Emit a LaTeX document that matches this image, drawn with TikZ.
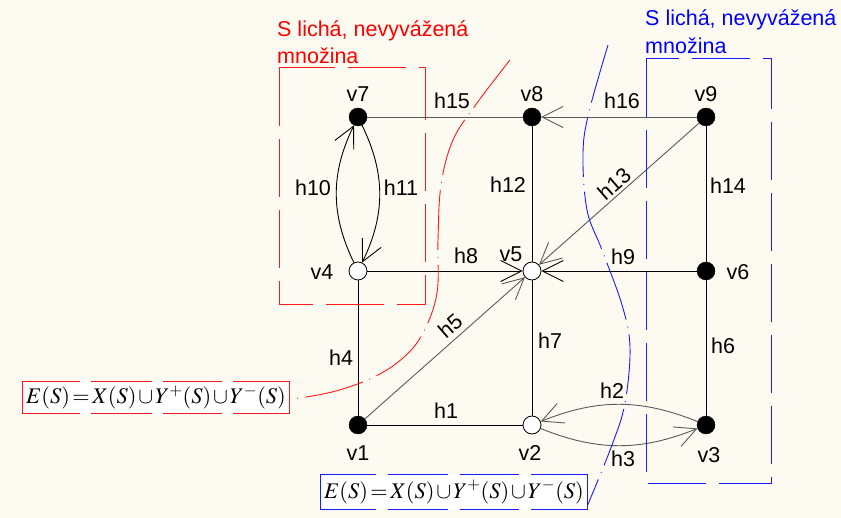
\documentclass[tikz,border=0pt]{standalone}
\usepackage{mathptmx}
\usepackage[no-math]{fontspec}
\setmainfont{Liberation Sans}
\usetikzlibrary{arrows.meta}
\definecolor{paper}{HTML}{FDFBF1}
\definecolor{edgegray}{HTML}{5A5A5A}
\definecolor{setred}{HTML}{FF1A1A}
\definecolor{setblue}{HTML}{1A1AFF}

% the set formula, set tight
\newcommand{\setformula}{\medmuskip=1.5mu\thickmuskip=2mu
  $E(S)=X(S)\cup Y^{+}(S)\cup Y^{-}(S)$}

\begin{document}
\begin{tikzpicture}[x=1pt,y=-1pt,
  every node/.style={font=\fontsize{21.5}{25}\selectfont},
  vfull/.style={circle,fill=black,draw=black,minimum size=18pt,inner sep=0pt},
  vopen/.style={circle,fill=white,draw=black,line width=0.8pt,minimum size=18pt,inner sep=0pt},
  edge/.style={line width=0.9pt,black},
  gedge/.style={line width=0.9pt,edgegray},
  arr/.style={-{Straight Barb[length=21pt,width=21pt]}},
  lbl/.style={inner sep=0pt},
  setbox/.style={line width=1pt,dash pattern=on 58pt off 13pt},
  setcurve/.style={line width=0.9pt,dash pattern=on 60pt off 7pt on 1pt off 7pt},
  formula/.style={fill=white,minimum width=266pt,minimum height=32pt,inner sep=0pt,
    font=\fontsize{22.3}{26}\selectfont},
  frame/.style={line width=1pt},
  notch/.style={white,line width=2.2pt}
]
% paper
\fill[paper] (0,0) rectangle (841,518);
\useasboundingbox (0,0) rectangle (841,518);

% vertices
\node[vfull] (v7) at (358,117) {};
\node[vfull] (v8) at (532,117) {};
\node[vfull] (v9) at (706,117) {};
\node[vopen] (v4) at (358,271) {};
\node[vopen] (v5) at (532,271) {};
\node[vfull] (v6) at (706,271) {};
\node[vfull] (v1) at (358,425) {};
\node[vopen] (v2) at (532,425) {};
\node[vfull] (v3) at (706,425) {};

% edges
\draw[gedge] (v7) -- (v8);                       % h15
\draw[gedge,arr] (v9) -- (v8);                   % h16
\draw[edge] (v8) -- (v5);                        % h12
\draw[gedge,arr] (v9) -- (v5);                   % h13
\draw[edge] (v9) -- (v6);                        % h14
\draw[edge,arr] (v4) -- (v5);                    % h8
\draw[edge,arr] (v6) -- (v5);                    % h9
\draw[edge,arr] (v4) to[bend left=26] (v7);      % h10
\draw[edge,arr] (v7) to[bend left=26] (v4);      % h11
\draw[edge] (v4) -- (v1);                        % h4
\draw[gedge,arr] (v1) -- (v5);                   % h5
\draw[edge] (v5) -- (v2);                        % h7
\draw[edge] (v6) -- (v3);                        % h6
\draw[edge] (v1) -- (v2);                        % h1
\draw[gedge,arr] (v3) to[bend right=22] (v2);    % h2
\draw[gedge,arr] (v2) to[bend right=22] (v3);    % h3

% vertex labels
\node[lbl] (lv7) at (358,94) {v7};
\node[lbl] (lv8) at (532,94) {v8};
\node[lbl] (lv9) at (706,94) {v9};
\node[lbl] (lv4) at (322,272) {v4};
\node[lbl] (lv5) at (511,254) {v5};
\node[lbl] (lv6) at (738,272) {v6};
\node[lbl] (lv1) at (358,453) {v1};
\node[lbl] (lv2) at (530,453) {v2};
\node[lbl] (lv3) at (709,455) {v3};

% edge labels
\node[lbl] (l15) at (452,101) {h15};
\node[lbl] (l16) at (622,101) {h16};
\node[lbl] (l12) at (508,185) {h12};
\node[lbl,rotate=41] (l13) at (614,184) {h13};
\node[lbl] (l14) at (728,186) {h14};
\node[lbl] (l10) at (313,188) {h10};
\node[lbl] (l11) at (401,188) {h11};
\node[lbl] (l8) at (466,256) {h8};
\node[lbl] (l9) at (623,257) {h9};
\node[lbl,rotate=41] (l5) at (450,326) {h5};
\node[lbl] (l7) at (550,341) {h7};
\node[lbl] (l6) at (723,346) {h6};
\node[lbl] (l4) at (341,358) {h4};
\node[lbl] (l1) at (446,411) {h1};
\node[lbl] (l2) at (612,391) {h2};
\node[lbl] (l3) at (623,459) {h3};

% odd unbalanced set, left
\node[lbl,anchor=west,text=red] (rt1) at (277,31) {S lichá, nevyvážená};
\node[lbl,anchor=west,text=red] (rt2) at (277,56) {množina};
\draw[setbox,setred] (279,68) rectangle (425,305);
\node[formula] (fr) at (156,397.5) {\setformula};
\draw[frame,setred] (fr.north west) rectangle (fr.south east);
\foreach \g in {57,129,199}{
  \draw[notch] ([xshift=\g pt]fr.north west) -- ++(11,0);
  \draw[notch] ([xshift=\g pt]fr.south west) -- ++(11,0);
}
\coordinate (rtop) at (510,60);
\draw[setcurve,setred] plot[smooth,tension=0.6] coordinates
  {(rtop) (477,103) (453,140) (441,185) (438,240) (437,293) (423,333) (403,358) (372,378) (332,392) ([yshift=-2pt]fr.east)};

% odd unbalanced set, right
\node[lbl,anchor=west,text=blue] (bt1) at (645,20) {S lichá, nevyvážená};
\node[lbl,anchor=west,text=blue] (bt2) at (645,46) {množina};
\draw[setbox,setblue] (646,59) rectangle (771,483);
\node[formula,minimum height=34pt] (fb) at (454,492) {\setformula};
\draw[frame,setblue] (fb.north west) rectangle (fb.south east);
\foreach \g in {55,127,198}{
  \draw[notch] ([xshift=\g pt]fb.north west) -- ++(12,0);
  \draw[notch] ([xshift=\g pt]fb.south west) -- ++(12,0);
}
\coordinate (btop) at (608,45);
\draw[setcurve,setblue] plot[smooth,tension=0.6] coordinates
  {(btop) (589,112) (583,153) (587,210) (602,250) (622,305) (630,347) (625,403) (612,445) ([yshift=3pt]fb.south east)};
\end{tikzpicture}
\end{document}
